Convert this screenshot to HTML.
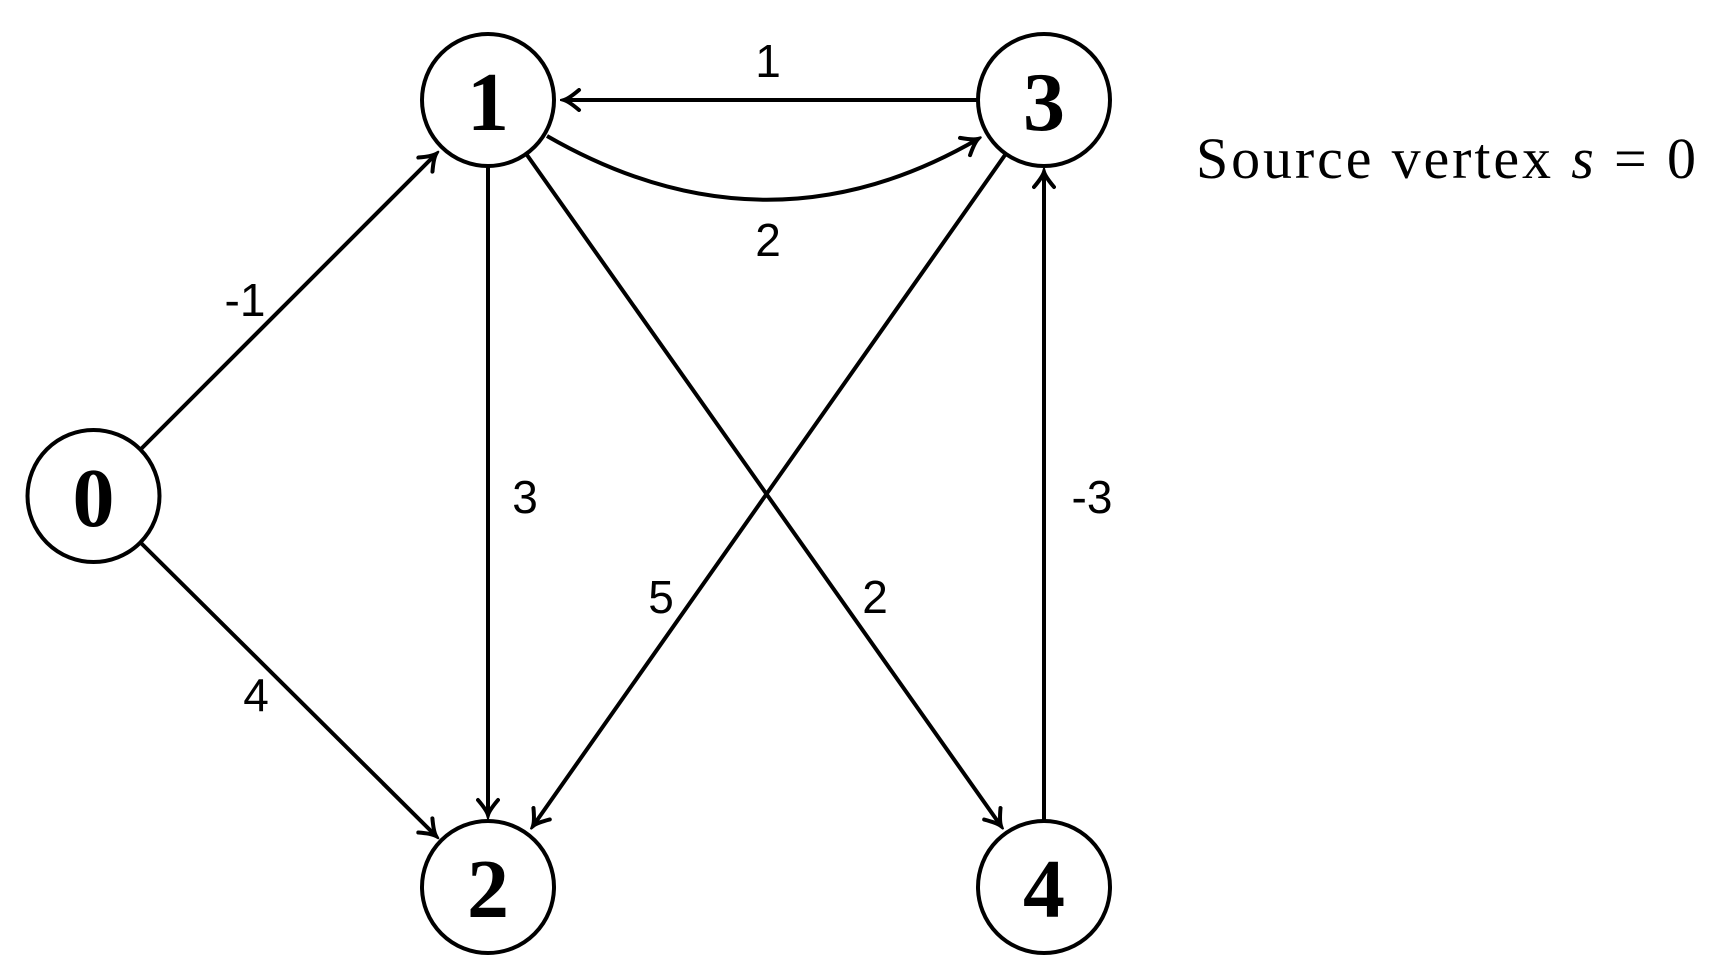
<!DOCTYPE html>
<html><head><style>
html,body{margin:0;padding:0;background:#fff;}
svg{display:block;}
.n{font-family:"Liberation Serif",serif;font-weight:bold;font-size:84px;text-anchor:middle;}
.l{font-family:"Liberation Sans",sans-serif;font-size:46px;text-anchor:middle;}
</style></head><body>
<svg width="1736" height="980" viewBox="0 0 1736 980" xmlns="http://www.w3.org/2000/svg">
<defs>
<marker id="a" viewBox="-18 -12 22 24" markerWidth="22" markerHeight="24" refX="0" refY="0" orient="auto" markerUnits="userSpaceOnUse">
<path d="M-15,-10 Q-5,-1.5 0,0 Q-5,1.5 -15,10" fill="none" stroke="#000" stroke-width="4" stroke-linecap="round"/>
</marker>
</defs>
<g stroke="#000" stroke-width="4" fill="none">
<line x1="141" y1="449" x2="436" y2="154" marker-end="url(#a)"/>
<line x1="141" y1="543" x2="436" y2="836" marker-end="url(#a)"/>
<line x1="488" y1="167" x2="488" y2="815" marker-end="url(#a)"/>
<line x1="977" y1="100" x2="564" y2="100" marker-end="url(#a)"/>
<line x1="527" y1="155" x2="1001" y2="826" marker-end="url(#a)"/>
<line x1="1005" y1="155" x2="533" y2="826" marker-end="url(#a)"/>
<line x1="1044" y1="820" x2="1044" y2="172" marker-end="url(#a)"/>
<path d="M547,136 Q766,262 978,139" marker-end="url(#a)"/>
<circle cx="93.5" cy="496" r="66"/>
<circle cx="488" cy="100" r="66"/>
<circle cx="1044" cy="100" r="66"/>
<circle cx="488" cy="887" r="66"/>
<circle cx="1044" cy="887" r="66"/>
</g>
<text class="n" x="93.5" y="526">0</text>
<text class="n" x="488" y="130">1</text>
<text class="n" x="1044" y="130">3</text>
<text class="n" x="488" y="917">2</text>
<text class="n" x="1044" y="917">4</text>
<text class="l" x="768" y="77">1</text>
<text class="l" x="768" y="256">2</text>
<text class="l" x="245" y="316">-1</text>
<text class="l" x="525" y="513">3</text>
<text class="l" x="1092" y="513">-3</text>
<text class="l" x="661" y="613">5</text>
<text class="l" x="875" y="613">2</text>
<text class="l" x="256" y="711">4</text>
<text x="1196" y="178" font-family="Liberation Serif,serif" font-size="58" textLength="500" lengthAdjust="spacing">Source vertex <tspan font-style="italic">s</tspan> = 0</text>
</svg>
</body></html>
